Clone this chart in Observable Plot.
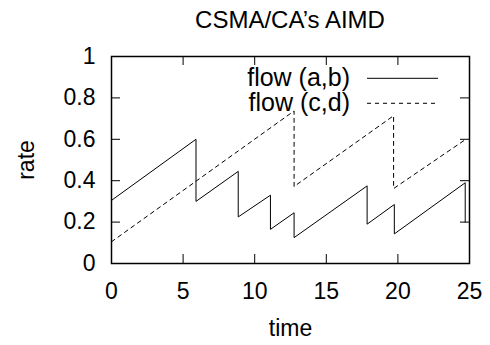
<!DOCTYPE html>
<html>
<head>
<meta charset="utf-8">
<script src="https://cdn.jsdelivr.net/npm/d3@7"></script>
<script src="https://cdn.jsdelivr.net/npm/@observablehq/plot@0.6"></script>
<style>
  html, body { margin: 0; padding: 0; background: #fff; }
  #wrap { position: relative; width: 490px; height: 345px; font-family: "Liberation Sans", Arial, sans-serif; }
  #title { position: absolute; left: 290px; top: 6px; transform: translateX(-50%); font-size: 24px; white-space: nowrap; color: #000; line-height: 28px; }
  #chart { position: absolute; left: 0; top: 40px; }
</style>
</head>
<body>
<div id="wrap">
  <div id="title">CSMA/CA’s AIMD</div>
  <div id="chart"></div>
</div>
<script>
// Series: flow (a,b) — solid
const timeAB = [0, 5.9, 5.9, 8.85, 8.85, 11.1, 11.1, 12.75, 12.75, 17.85, 17.85, 19.75, 19.75, 24.7, 24.7];
const rateAB = [0.305, 0.600, 0.300, 0.445, 0.225, 0.330, 0.165, 0.245, 0.125, 0.375, 0.190, 0.285, 0.143, 0.390, 0.200];
// Series: flow (c,d) — dashed
const timeCD = [0, 12.75, 12.75, 19.7, 19.7, 24.7];
const rateCD = [0.105, 0.737, 0.372, 0.714, 0.362, 0.598];

const seriesLabels = ["flow (a,b)", "flow (c,d)"];
const xTicks = [0, 5, 10, 15, 20, 25];
const yTicks = [0, 0.2, 0.4, 0.6, 0.8, 1];
const yTickLabels = ["0", "0.2", "0.4", "0.6", "0.8", "1"];
const xLabel = "time";
const yLabel = "rate";

const ab = timeAB.map((t, i) => ({time: t, rate: rateAB[i]}));
const cd = timeCD.map((t, i) => ({time: t, rate: rateCD[i]}));

const W = 490, H = 305;
const mL = 111, mR = 21, mT = 16, mB = 82;
const plotW = W - mL - mR, plotH = H - mT - mB;
const tickLen = 9;
const FS = 23;
const LFS = 25;

const chart = Plot.plot({
  width: W,
  height: H,
  marginLeft: mL,
  marginRight: mR,
  marginTop: mT,
  marginBottom: mB,
  style: {fontFamily: "'Liberation Sans', Arial, sans-serif", fontSize: FS + "px", color: "#000", background: "#fff"},
  x: {domain: [0, 25]},
  y: {domain: [0, 1]},
  marks: [
    // inward ticks on all four sides
    Plot.tickX(xTicks, {x: d => d, insetTop: plotH - tickLen, stroke: "#000", strokeWidth: 1}),
    Plot.tickX(xTicks, {x: d => d, insetBottom: plotH - tickLen, stroke: "#000", strokeWidth: 1}),
    Plot.tickY(yTicks, {y: d => d, insetRight: plotW - tickLen, stroke: "#000", strokeWidth: 1}),
    Plot.tickY(yTicks, {y: d => d, insetLeft: plotW - tickLen, stroke: "#000", strokeWidth: 1}),
    Plot.axisX({ticks: xTicks, tickSize: 0, tickPadding: 19, label: null, fontSize: FS}),
    Plot.axisY({ticks: yTicks, tickSize: 0, tickPadding: 16, label: null, fontSize: FS,
      tickFormat: d => yTickLabels[yTicks.indexOf(d)]}),
    Plot.line(ab, {x: "time", y: "rate", stroke: "#000", strokeWidth: 1, curve: "linear"}),
    Plot.line(cd, {x: "time", y: "rate", stroke: "#000", strokeWidth: 1, strokeDasharray: "4,4", curve: "linear"}),
    Plot.frame({stroke: "#000", strokeWidth: 1.5}),
    Plot.text([xLabel], {text: d => d, frameAnchor: "bottom", dy: 56, lineAnchor: "top", fontSize: FS, fill: "#000"}),
    Plot.text([yLabel], {text: d => d, frameAnchor: "left", dx: -85, rotate: -90, lineAnchor: "middle", textAnchor: "middle", fontSize: FS, fill: "#000"})
  ]
});

// legend (key) in the top-right of the frame
const svg = d3.select(chart);
const right = W - mR;
const lg = svg.append("g").attr("font-size", LFS + "px").attr("font-family", "'Liberation Sans', Arial, sans-serif");
seriesLabels.forEach((lab, i) => {
  const lineY = mT + 22.3 + i * 25;
  const baseY = mT + 29.5 + i * 25.5;
  lg.append("text").attr("x", right - 119).attr("y", baseY)
    .attr("text-anchor", "end").attr("fill", "#000").text(lab);
  lg.append("line").attr("x1", right - 102).attr("x2", right - 31).attr("y1", lineY).attr("y2", lineY)
    .attr("stroke", "#000").attr("stroke-width", 1)
    .attr("stroke-dasharray", i === 0 ? null : "4,4");
});

document.getElementById("chart").appendChild(chart);
</script>
</body>
</html>
